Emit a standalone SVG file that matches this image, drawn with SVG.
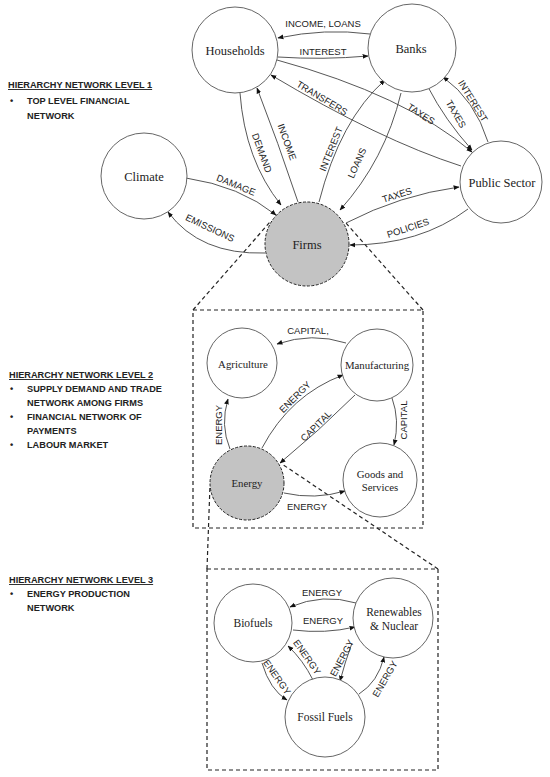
<svg xmlns="http://www.w3.org/2000/svg" width="550" height="777" viewBox="0 0 550 777">
<defs>
<marker id="ah" viewBox="0 0 10 10" refX="9" refY="5" markerWidth="6" markerHeight="6" markerUnits="userSpaceOnUse" orient="auto">
<path d="M0,1 L10,5 L0,9 z" fill="#111"/>
</marker>
<style>
.node{fill:#fff;stroke:#555;stroke-width:0.9}
.hl{fill:#c3c3c3;stroke:#222;stroke-width:1;stroke-dasharray:3 1.5}
.nt{font-family:"Liberation Serif","Times New Roman",serif;fill:#222;text-anchor:middle}
.e{fill:none;stroke:#444;stroke-width:0.9;marker-end:url(#ah)}
.el{font-family:"Liberation Sans",Arial,sans-serif;font-size:9.5px;fill:#222;text-anchor:middle}
.box{fill:none;stroke:#222;stroke-width:1.2;stroke-dasharray:4 3}
.hd{font-family:"Liberation Sans",Arial,sans-serif;font-weight:bold;font-size:9.2px;fill:#222}
</style>
</defs>
<rect width="550" height="777" fill="#fff"/>

<!-- side texts -->
<g id="level1-text" class="hd">
<text x="8" y="88" text-decoration="underline">HIERARCHY NETWORK LEVEL 1</text>
<text x="10" y="104">•</text><text x="27" y="104">TOP LEVEL FINANCIAL</text>
<text x="27" y="119">NETWORK</text>
</g>
<g id="level2-text" class="hd">
<text x="9" y="378" text-decoration="underline">HIERARCHY NETWORK LEVEL 2</text>
<text x="10" y="392">•</text><text x="27" y="392">SUPPLY DEMAND AND TRADE</text>
<text x="27" y="406">NETWORK AMONG FIRMS</text>
<text x="10" y="420">•</text><text x="27" y="420">FINANCIAL NETWORK OF</text>
<text x="27" y="434">PAYMENTS</text>
<text x="10" y="448">•</text><text x="27" y="448">LABOUR MARKET</text>
</g>
<g id="level3-text" class="hd">
<text x="9" y="583" text-decoration="underline">HIERARCHY NETWORK LEVEL 3</text>
<text x="10" y="597">•</text><text x="27" y="597">ENERGY PRODUCTION</text>
<text x="27" y="611">NETWORK</text>
</g>

<!-- zoom boxes and dashed projection lines -->
<g id="zoom-frames">
<rect class="box" x="193" y="310" width="230" height="218"/>
<rect class="box" x="207" y="569" width="231" height="201"/>
<line class="box" x1="193" y1="310" x2="270" y2="222"/>
<line class="box" x1="423" y1="310" x2="345" y2="222"/>
<line class="box" x1="207" y1="569" x2="210" y2="485"/>
<line class="box" x1="438" y1="569" x2="282" y2="464"/>
</g>

<!-- connectors -->
<g id="connectors">
<path class="e" d="M370,34 Q325,28 278,38"/>
<path class="e" d="M278,57 Q323,60 368,56"/>
<path class="e" d="M277,60 Q405,95 472,152"/>
<path class="e" d="M461,166 Q380,140 271,75"/>
<path class="e" d="M428,87 Q445,120 472,150"/>
<path class="e" d="M488,142 Q475,100 443,77"/>
<path class="e" d="M298,202 Q278,142 257,88"/>
<path class="e" d="M240,93 Q245,160 281,205"/>
<path class="e" d="M319,202 Q340,120 385,80"/>
<path class="e" d="M401,93 Q385,160 340,210"/>
<path class="e" d="M346,223 Q400,195 459,187"/>
<path class="e" d="M468,209 Q420,245 350,245"/>
<path class="e" d="M186,178 Q240,186 276,215"/>
<path class="e" d="M265,253 Q200,255 168,212"/>

<path class="e" d="M346,343 Q312,332 277,344"/>
<path class="e" d="M230,449 Q220,425 228,399"/>
<path class="e" d="M262,448 Q290,395 343,375"/>
<path class="e" d="M355,395 Q320,430 280,463"/>
<path class="e" d="M392,398 Q400,420 394,445"/>
<path class="e" d="M284,493 Q315,500 345,491"/>

<path class="e" d="M356,603 Q323,593 290,607"/>
<path class="e" d="M293,630 Q325,634 355,627"/>
<path class="e" d="M313,680 Q303,660 288,646"/>
<path class="e" d="M262,663 Q270,690 287,700"/>
<path class="e" d="M352,643 Q345,662 340,681"/>
<path class="e" d="M359,694 Q378,682 384,657"/>
</g>

<!-- connector labels -->
<g id="connector-labels" class="el">
<text x="323" y="27">INCOME, LOANS</text>
<text x="323" y="55">INTEREST</text>
<text transform="translate(421,114) rotate(33)" dy="3.3">TAXES</text>
<text transform="translate(322,98) rotate(31)" dy="3.3">TRANSFERS</text>
<text transform="translate(456,114) rotate(60)" dy="3.3">TAXES</text>
<text transform="translate(473,101) rotate(58)" dy="3.3">INTEREST</text>
<text transform="translate(287,142) rotate(70)" dy="3.3">INCOME</text>
<text transform="translate(262,153) rotate(70)" dy="3.3">DEMAND</text>
<text transform="translate(331,149) rotate(-68)" dy="3.3">INTEREST</text>
<text transform="translate(357,163) rotate(-66)" dy="3.3">LOANS</text>
<text transform="translate(397,195) rotate(-18)" dy="3.3">TAXES</text>
<text transform="translate(408,228) rotate(-18)" dy="3.3">POLICIES</text>
<text transform="translate(236,185) rotate(22)" dy="3.3">DAMAGE</text>
<text transform="translate(210,228) rotate(25)" dy="3.3">EMISSIONS</text>

<text x="308" y="334">CAPITAL,</text>
<text transform="translate(219,425) rotate(-90)" dy="3.3">ENERGY</text>
<text transform="translate(295,397) rotate(-45)" dy="3.3">ENERGY</text>
<text transform="translate(316,426) rotate(-45)" dy="3.3">CAPITAL</text>
<text transform="translate(404,420) rotate(-90)" dy="3.3">CAPITAL</text>
<text x="307" y="510">ENERGY</text>

<text x="322" y="596">ENERGY</text>
<text x="323" y="624">ENERGY</text>
<text transform="translate(307,657) rotate(55)" dy="3.3">ENERGY</text>
<text transform="translate(277,677) rotate(55)" dy="3.3">ENERGY</text>
<text transform="translate(342,658) rotate(-62)" dy="3.3">ENERGY</text>
<text transform="translate(385,679) rotate(-60)" dy="3.3">ENERGY</text>
</g>

<!-- nodes level 1 -->
<g id="households"><circle class="node" cx="235" cy="50" r="43"/><text class="nt" x="235" y="54.5" font-size="12.5">Households</text></g>
<g id="banks"><circle class="node" cx="412" cy="48" r="44"/><text class="nt" x="411" y="52.5" font-size="12.5">Banks</text></g>
<g id="public-sector"><circle class="node" cx="501" cy="182" r="41"/><text class="nt" x="502" y="186.5" font-size="12.5">Public Sector</text></g>
<g id="climate"><circle class="node" cx="144" cy="176" r="43"/><text class="nt" x="144" y="180.5" font-size="12.5">Climate</text></g>
<g id="firms"><circle class="hl" cx="307" cy="244" r="42"/><text class="nt" x="307" y="248.5" font-size="12.5">Firms</text></g>

<!-- nodes level 2 -->
<g id="agriculture"><circle class="node" cx="242" cy="363" r="35"/><text class="nt" x="243" y="367.5" font-size="10.8">Agriculture</text></g>
<g id="manufacturing"><circle class="node" cx="377" cy="365" r="36"/><text class="nt" x="377" y="369" font-size="10.8">Manufacturing</text></g>
<g id="energy"><circle class="hl" cx="247" cy="483" r="37"/><text class="nt" x="247" y="487" font-size="10.8">Energy</text></g>
<g id="goods-services"><circle class="node" cx="380" cy="480" r="37"/><text class="nt" x="380" y="478" font-size="10.8">Goods and</text><text class="nt" x="380" y="491" font-size="10.8">Services</text></g>

<!-- nodes level 3 -->
<g id="biofuels"><circle class="node" cx="253" cy="623" r="39"/><text class="nt" x="253" y="627" font-size="11.5">Biofuels</text></g>
<g id="renewables"><circle class="node" cx="393" cy="618" r="40"/><text class="nt" x="394" y="616" font-size="11.5">Renewables</text><text class="nt" x="394" y="629.5" font-size="11.5">&amp; Nuclear</text></g>
<g id="fossil-fuels"><circle class="node" cx="325" cy="717" r="40"/><text class="nt" x="325" y="721" font-size="11.5">Fossil Fuels</text></g>
</svg>
